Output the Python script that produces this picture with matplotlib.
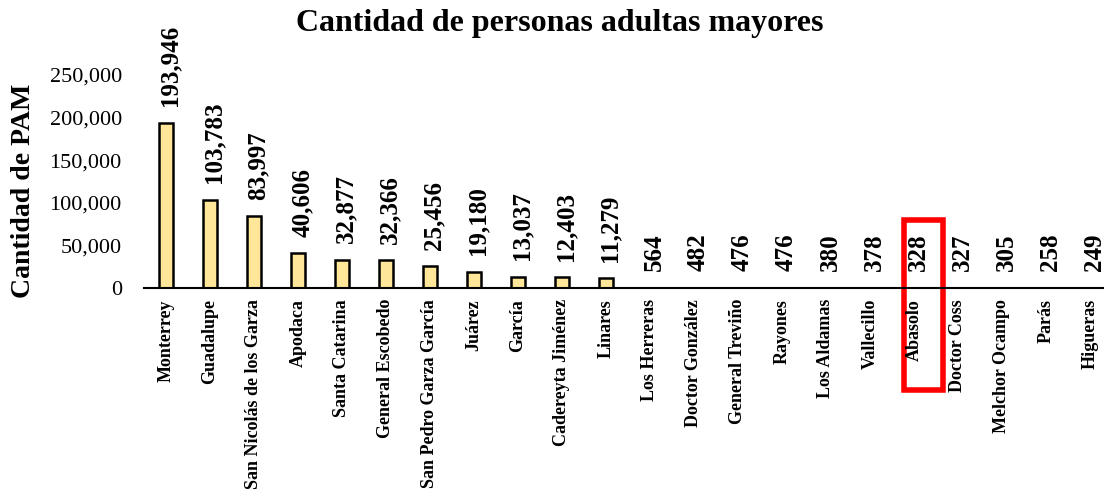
import matplotlib.pyplot as plt
from matplotlib.patches import Rectangle
from matplotlib.ticker import FuncFormatter
from matplotlib.transforms import ScaledTranslation

plt.rcParams['font.family'] = ['Liberation Serif', 'DejaVu Serif']

municipios = ['Monterrey', 'Guadalupe', 'San Nicolás de los Garza', 'Apodaca',
              'Santa Catarina', 'General Escobedo', 'San Pedro Garza García',
              'Juárez', 'García', 'Cadereyta Jiménez', 'Linares', 'Los Herreras',
              'Doctor González', 'General Treviño', 'Rayones', 'Los Aldamas',
              'Vallecillo', 'Abasolo', 'Doctor Coss', 'Melchor Ocampo', 'Parás',
              'Higueras']
pam = [193946, 103783, 83997, 40606, 32877, 32366, 25456, 19180, 13037,
       12403, 11279, 564, 482, 476, 476, 380, 378, 328, 327, 305, 258, 249]
resaltado = 'Abasolo'
yticks = [0, 50000, 100000, 150000, 200000, 250000]

fig = plt.figure(figsize=(11.04, 4.98), dpi=100)
ax = fig.add_axes([144/1104, 1 - 288/498, 960/1104, 213/498])

x = list(range(len(municipios)))
ax.bar(x, pam, width=0.32, color='#FFE699', edgecolor='black', linewidth=1.8)

for xi, v in zip(x, pam):
    ax.annotate(f'{v:,}', (xi, v), xytext=(3, 12), textcoords='offset points',
                rotation=90, ha='center', va='bottom', fontsize=18,
                fontweight='bold')

ax.set_xlim(-0.5, -0.5 + 960/44)
ax.set_ylim(0, 250000)
ax.set_yticks(yticks)
ax.yaxis.set_major_formatter(FuncFormatter(lambda v, p: f'{int(v):,}'))
ax.set_xticks(x)
ax.set_xticklabels(municipios, rotation=90, fontsize=13, fontweight='bold')
desplaza = ScaledTranslation(4/72, 0, fig.dpi_scale_trans)
for lbl in ax.get_xticklabels():
    lbl.set_transform(lbl.get_transform() + desplaza)
ax.tick_params(axis='y', length=0, pad=16, labelsize=16)
ax.tick_params(axis='x', length=0, pad=8)
for s in ['top', 'right', 'left']:
    ax.spines[s].set_visible(False)
ax.spines['bottom'].set_linewidth(1.5)

ax.set_ylabel('Cantidad de PAM', fontsize=20, fontweight='bold')
ax.yaxis.set_label_coords(-0.113, 0.455)

fig.text(0.507, 1 - 23/498, 'Cantidad de personas adultas mayores',
         ha='center', va='center', fontsize=23, fontweight='bold')

# recuadro rojo sobre el municipio resaltado
i = municipios.index(resaltado)
ax.add_patch(Rectangle((i - 0.23, -120000), 0.9, 200000, fill=False,
                       edgecolor='red', linewidth=4, clip_on=False))

fig.savefig('out.png', dpi=100)
